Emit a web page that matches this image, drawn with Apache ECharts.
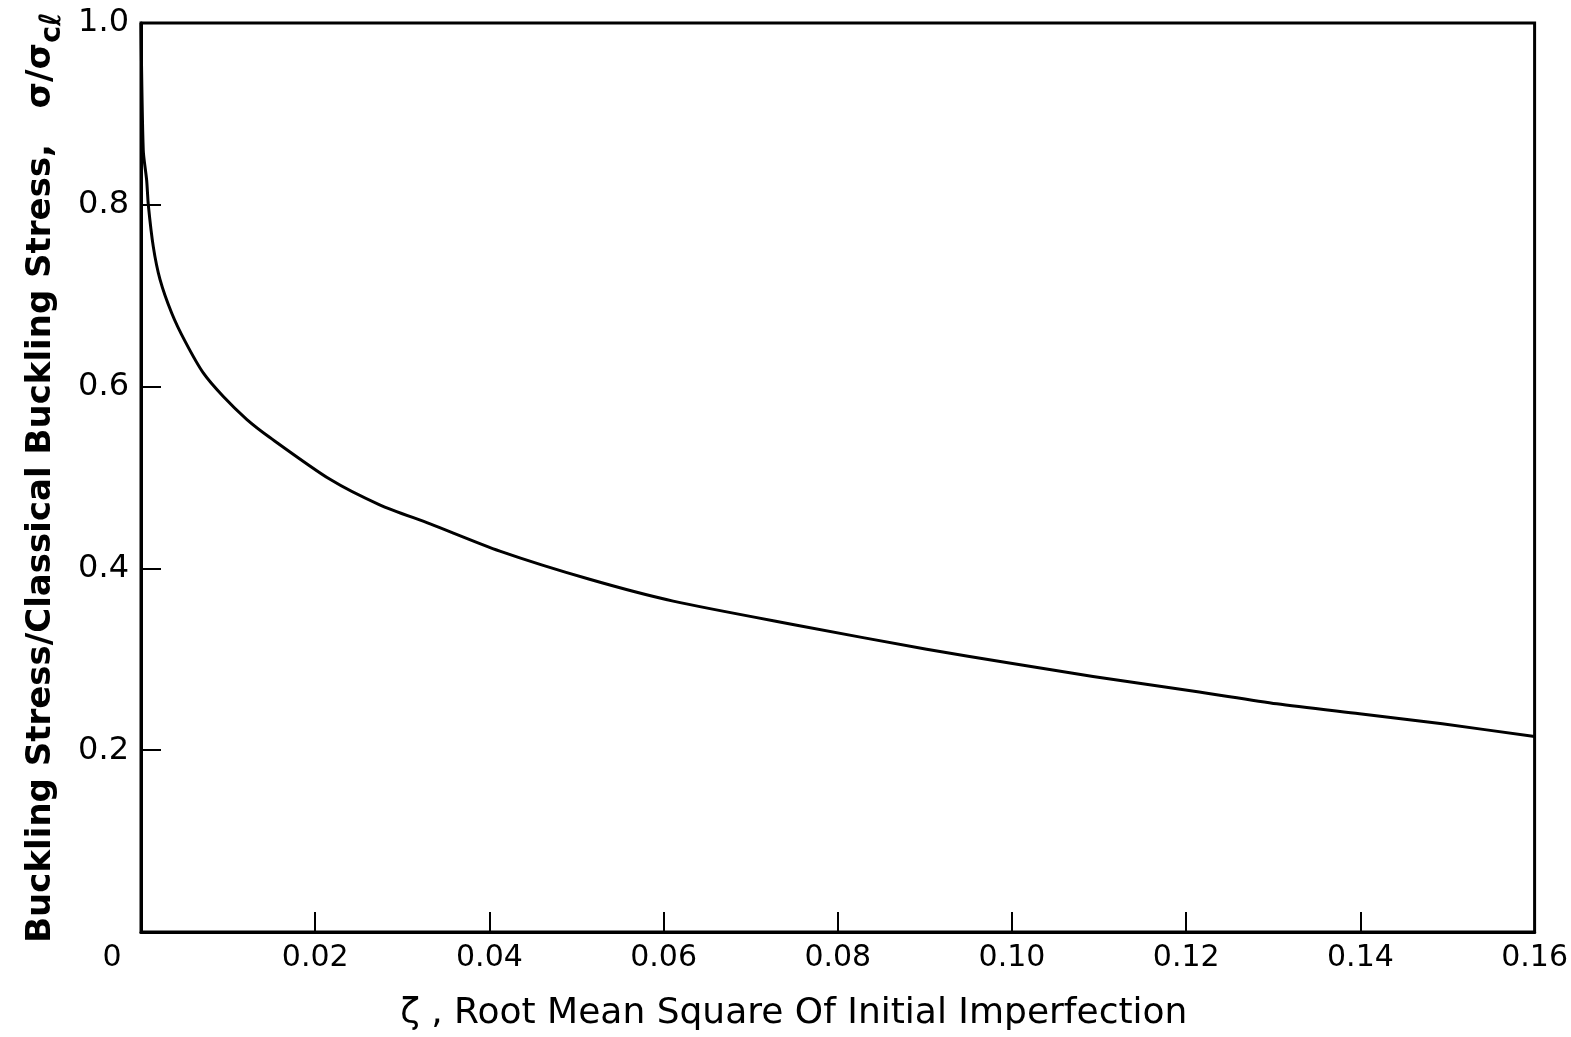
<!DOCTYPE html>
<html>
<head>
<meta charset="utf-8">
<script src="https://cdn.jsdelivr.net/npm/echarts@6/dist/echarts.min.js"></script>
<style>html,body{margin:0;padding:0;background:#fff}#c{width:1571px;height:1037px}</style>
</head>
<body>
<div id="c"></div>
<script>
// ζ, root mean square of initial imperfection
var zeta = [0, 0.00026, 0.00065, 0.00084, 0.00141, 0.00218, 0.00352, 0.00505, 0.00715, 0.00945, 0.01213, 0.0148, 0.0217, 0.0274, 0.0332, 0.0412, 0.0515, 0.0611, 0.0756, 0.0902, 0.0997, 0.1093, 0.1215, 0.1304, 0.1399, 0.1494, 0.16];
// σ/σcl, buckling stress / classical buckling stress
var stress = [1.0, 0.86, 0.827, 0.800, 0.754, 0.718, 0.681, 0.650, 0.615, 0.589, 0.564, 0.544, 0.498, 0.470, 0.449, 0.419, 0.388, 0.364, 0.337, 0.311, 0.296, 0.281, 0.264, 0.251, 0.240, 0.229, 0.215];
var xTicks = [0, 0.02, 0.04, 0.06, 0.08, 0.10, 0.12, 0.14, 0.16];
var xTickLabels = ['0', '0.02', '0.04', '0.06', '0.08', '0.10', '0.12', '0.14', '0.16'];
var yTickLabels = {0.2: '0.2', 0.4: '0.4', 0.6: '0.6', 0.8: '0.8', 1: '1.0'};

var pts = zeta.map(function (z, i) { return [z, stress[i]]; });
var font = 'DejaVu Sans';
var chart = echarts.init(document.getElementById('c'));
chart.setOption({
  animation: false,
  backgroundColor: '#fff',
  grid: { left: 141, right: 36, top: 23, bottom: 104, show: true, borderColor: '#000', borderWidth: 3 },
  xAxis: {
    type: 'value', min: 0, max: 0.16, interval: 0.02,
    splitLine: { show: false },
    axisLine: { show: true, lineStyle: { color: '#000', width: 3 } },
    axisTick: { show: true, inside: true, length: 20, lineStyle: { color: '#000', width: 2 } },
    axisLabel: {
      margin: 11, color: '#000', fontFamily: font, fontSize: 30,
      formatter: function (v) {
        var i = xTicks.findIndex(function (t) { return Math.abs(t - v) < 1e-9; });
        if (i === 0) return '{z|0}';
        return i >= 0 ? xTickLabels[i] : '';
      },
      rich: { z: { fontFamily: font, fontSize: 30, color: '#000', padding: [0, 58, 0, 0] } }
    },
    name: 'ζ , Root Mean Square Of Initial Imperfection',
    nameLocation: 'middle', nameGap: 64,
    nameTextStyle: { color: '#000', fontFamily: font, fontSize: 36, padding: [0, 88, 0, 0] }
  },
  yAxis: {
    type: 'value', min: 0, max: 1.0, interval: 0.2,
    splitLine: { show: false },
    axisLine: { show: true, lineStyle: { color: '#000', width: 3 } },
    axisTick: { show: true, inside: true, length: 20, lineStyle: { color: '#000', width: 2 } },
    axisLabel: {
      margin: 12, color: '#000', fontFamily: font, fontSize: 32,
      formatter: function (v) {
        var k = Math.round(v * 10) / 10;
        return yTickLabels[k] || '';
      }
    },
    name: '{a|Buckling Stress/Classical Buckling Stress,   σ/σ}{s|cℓ}',
    nameLocation: 'middle', nameGap: 75, nameRotate: 90,
    nameTextStyle: {
      color: '#000',
      rich: {
        a: { fontFamily: font, fontSize: 34, fontWeight: 'bold', color: '#000', verticalAlign: 'top', lineHeight: 40 },
        s: { fontFamily: font, fontSize: 29, fontWeight: 'bold', color: '#000', verticalAlign: 'top', lineHeight: 40, padding: [14, 0, 0, 0] }
      }
    }
  },
  series: [{
    type: 'line', data: pts, showSymbol: false, smooth: 0.25,
    lineStyle: { color: '#000', width: 3, join: 'round' }
  }]
});
</script>
</body>
</html>
